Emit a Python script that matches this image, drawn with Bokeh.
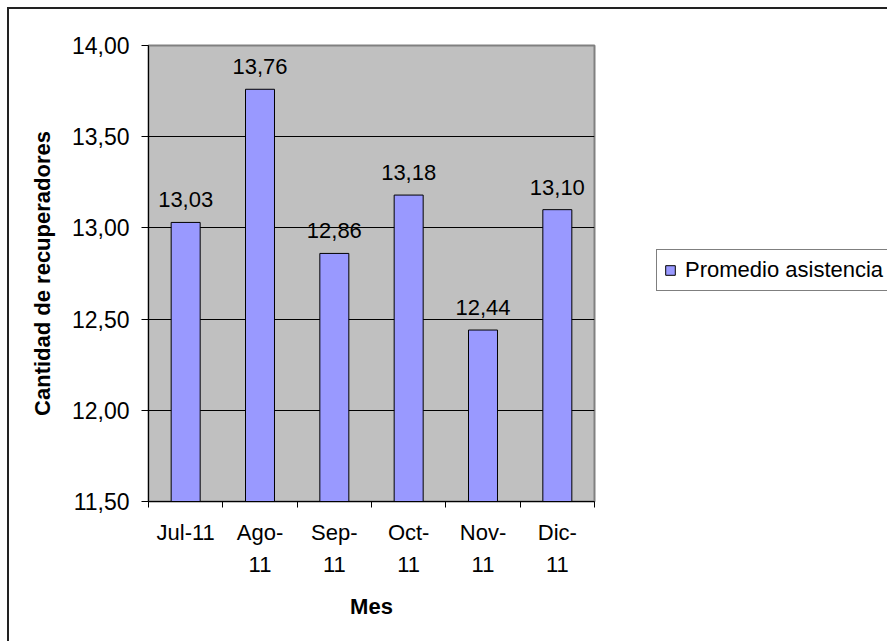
from bokeh.plotting import figure
from bokeh.layouts import row
from bokeh.models import (FixedTicker, Legend, LegendItem, ColumnDataSource, Range1d,
                          CustomJSTickFormatter)
from bokeh.core.properties import value
from bokeh.embed import file_html
from bokeh.resources import INLINE

# ---- data ----
months = ["Jul-11", "Ago-11", "Sep-11", "Oct-11", "Nov-11", "Dic-11"]
month_labels = ["Jul-11", "Ago-\n11", "Sep-\n11", "Oct-\n11", "Nov-\n11", "Dic-\n11"]
promedio = [13.03, 13.76, 12.86, 13.18, 12.44, 13.10]
y_ticks = [11.5, 12.0, 12.5, 13.0, 13.5, 14.0]
series_name = "Promedio asistencia"
x_title = "Mes"
y_title = "Cantidad de recuperadores"

FONT = "Liberation Sans"
FS = "22px"
BAR_FILL = "#9999FF"

xs = [i + 0.5 for i in range(len(months))]
labels = [f"{v:.2f}".replace(".", ",") for v in promedio]
src = ColumnDataSource(dict(x=xs, top=promedio, month=months, label=labels))

W_MAIN, W_LEG, H = 620, 267, 641

p = figure(width=W_MAIN, height=H, output_backend="svg", toolbar_location=None,
           x_range=Range1d(0, len(months)), y_range=Range1d(y_ticks[0], y_ticks[-1]),
           min_border_left=148, min_border_right=26, min_border_top=45, min_border_bottom=140,
           background_fill_color="#C0C0C0", border_fill_alpha=0,
           outline_line_color="#808080", outline_line_width=2)

bars = p.vbar(x="x", top="top", bottom=y_ticks[0], width=0.39, source=src,
              fill_color=BAR_FILL, line_color="black", line_width=1)

p.text(x="x", y="top", text="label", source=src, text_align="center",
       text_baseline="bottom", y_offset=-15, text_font=value(FONT),
       text_font_size=FS, text_color="black")

# y axis
p.yaxis.ticker = FixedTicker(ticks=y_ticks)
p.yaxis.formatter = CustomJSTickFormatter(code="return tick.toFixed(2).replace('.', ',');")
p.yaxis.major_tick_out = 7
p.yaxis.major_tick_in = 0
p.yaxis.minor_tick_out = 0
p.yaxis.minor_tick_in = 0
p.yaxis.major_label_standoff = 12
p.yaxis.axis_label = y_title
p.yaxis.axis_label_standoff = 14
p.ygrid.ticker = FixedTicker(ticks=y_ticks[1:-1])
p.ygrid.grid_line_color = "black"
p.ygrid.grid_line_width = 1

# x axis
p.xaxis.ticker = FixedTicker(ticks=xs, minor_ticks=list(range(len(months) + 1)))
p.xaxis.formatter = CustomJSTickFormatter(args=dict(labels=month_labels),
                                          code="return labels[Math.round(tick - 0.5)];")
p.xaxis.major_tick_out = 0
p.xaxis.major_tick_in = 0
p.xaxis.minor_tick_out = 6
p.xaxis.minor_tick_in = 0
p.xaxis.minor_tick_line_color = "black"
p.xaxis.major_label_standoff = 12
p.xaxis.major_label_text_line_height = 1.3
p.xaxis.axis_label = x_title
p.xaxis.axis_label_standoff = 14
p.xgrid.visible = False

for ax in (p.xaxis[0], p.yaxis[0]):
    ax.axis_line_color = "black"
    ax.axis_line_width = 1
    ax.major_tick_line_color = "black"
    ax.major_label_text_font = FONT
    ax.major_label_text_font_size = FS
    ax.major_label_text_color = "black"
    ax.axis_label_text_font = FONT
    ax.axis_label_text_font_size = FS
    ax.axis_label_text_font_style = "bold"
    ax.axis_label_text_color = "black"
p.yaxis.major_label_text_font_size = "23px"

# legend panel (second figure to the right of the plot; frames are aligned).
# Its bar renderer is hidden and only serves as the legend's glyph.
p2 = figure(width=W_LEG, height=H, output_backend="svg", toolbar_location=None,
            x_range=Range1d(0, len(months)), y_range=Range1d(y_ticks[0], y_ticks[-1]),
            min_border=0, min_border_left=0, min_border_right=0, min_border_top=0,
            min_border_bottom=0, background_fill_alpha=0, border_fill_alpha=0,
            outline_line_color=None)
p2.axis.visible = False
p2.grid.visible = False
leg_bars = p2.vbar(x="x", top="top", bottom=y_ticks[0], width=0.39, source=src,
                   fill_color=BAR_FILL, line_color="black", line_width=1)
leg_bars.visible = False

legend = Legend(items=[LegendItem(label=series_name, renderers=[leg_bars])],
                location=(36, 210), orientation="vertical",
                border_line_color="black", border_line_width=1,
                background_fill_color="white", background_fill_alpha=1,
                label_text_font=FONT, label_text_font_size=FS, label_text_color="black",
                glyph_width=12, glyph_height=12, label_standoff=9, padding=7,
                margin=0, spacing=0, label_height=20, click_policy="none")
p2.add_layout(legend)

layout = row(p, p2, spacing=0)
layout.styles = {"box-shadow": "inset 7px 7px 0 0 white, inset 9px 9px 0 0 #222",
                 "background": "white"}

open("out.html", "w").write(file_html(layout, INLINE))
